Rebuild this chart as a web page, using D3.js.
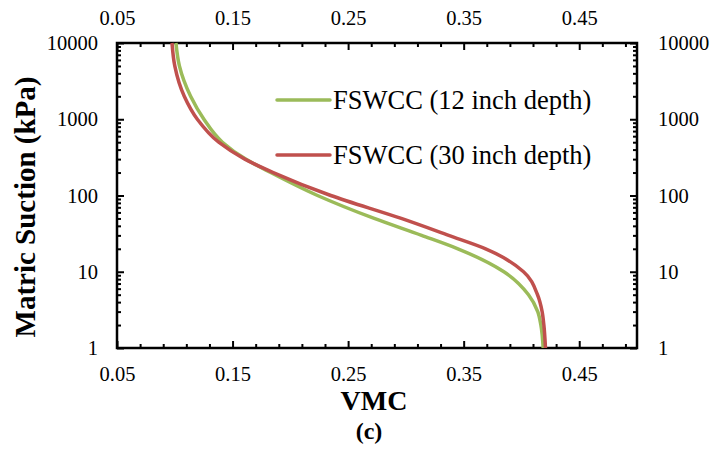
<!DOCTYPE html>
<html>
<head>
<meta charset="utf-8">
<script src="https://cdn.jsdelivr.net/npm/d3@7"></script>
<style>
  html, body { margin: 0; padding: 0; background: #fff; }
  svg { display: block; }
</style>
</head>
<body>
<svg id="chart" width="712" height="451"></svg>
<script>
// Soil-water characteristic curves: suction (kPa) vs volumetric moisture content
const suction = [10000, 5000, 2000, 1000, 500, 300, 200, 100, 50, 30, 20, 10, 5, 3, 2, 1];
const vmc12 = [0.1010, 0.1040, 0.1137, 0.1252, 0.1412, 0.1613, 0.1830, 0.2235, 0.2726, 0.3136, 0.3450, 0.3848, 0.4061, 0.4141, 0.4168, 0.4188];
const vmc30 = [0.0976, 0.1000, 0.1082, 0.1195, 0.1380, 0.1606, 0.1852, 0.2350, 0.2960, 0.3370, 0.3690, 0.4018, 0.4139, 0.4179, 0.4194, 0.4208];

const seriesNames = ["FSWCC (12 inch depth)", "FSWCC (30 inch depth)"];
const seriesColors = ["#9BBB59", "#C0504D"];

const xMajorTicks = [0.05, 0.15, 0.25, 0.35, 0.45];
const xMinorTicks = [0.07, 0.09, 0.11, 0.13, 0.17, 0.19, 0.21, 0.23, 0.27, 0.29, 0.31, 0.33,
                     0.37, 0.39, 0.41, 0.43, 0.47, 0.49];
const yMajorTicks = [1, 10, 100, 1000, 10000];

const FONT = '"Liberation Serif"';
const svg = d3.select("#chart");
const plotL = 117, plotR = 637, plotT = 43, plotB = 348;

const x = d3.scaleLinear().domain([0.05, 0.50]).range([plotL, plotR]);
const y = d3.scaleLog().domain([1, 10000]).range([plotB, plotT]);

const yMinorTicks = [];
for (let d = 1; d < 10000; d *= 10) for (let k = 2; k <= 9; k++) yMinorTicks.push(d * k);

const fmtX = d3.format(".2f");
const fmtY = d3.format("d");

function styleAxis(g) {
  g.attr("font-family", null).attr("font-size", null);
  g.select(".domain").remove();
  g.selectAll(".tick line").attr("stroke", "#000").attr("stroke-width", 2);
  g.selectAll(".tick text")
    .attr("fill", "#000")
    .style("font-family", FONT)
    .style("font-size", "20.5px");
}

function addAxis(axis, tx, ty) {
  svg.append("g").attr("transform", `translate(${tx},${ty})`).call(axis).call(styleAxis);
}

// bottom & top axes
addAxis(d3.axisBottom(x).tickValues(xMajorTicks).tickFormat(fmtX).tickSizeInner(-7).tickSizeOuter(0).tickPadding(18), 0, plotB);
addAxis(d3.axisBottom(x).tickValues(xMinorTicks).tickFormat("").tickSizeInner(-4).tickSizeOuter(0), 0, plotB);
addAxis(d3.axisTop(x).tickValues(xMajorTicks).tickFormat(fmtX).tickSizeInner(-7).tickSizeOuter(0).tickPadding(18), 0, plotT);
addAxis(d3.axisTop(x).tickValues(xMinorTicks).tickFormat("").tickSizeInner(-4).tickSizeOuter(0), 0, plotT);
// left & right axes
addAxis(d3.axisLeft(y).tickValues(yMajorTicks).tickFormat(fmtY).tickSizeInner(-7).tickSizeOuter(0).tickPadding(19), plotL, 0);
addAxis(d3.axisLeft(y).tickValues(yMinorTicks).tickFormat("").tickSizeInner(-4).tickSizeOuter(0), plotL, 0);
addAxis(d3.axisRight(y).tickValues(yMajorTicks).tickFormat(fmtY).tickSizeInner(-7).tickSizeOuter(0).tickPadding(21), plotR, 0);
addAxis(d3.axisRight(y).tickValues(yMinorTicks).tickFormat("").tickSizeInner(-4).tickSizeOuter(0), plotR, 0);

// plot frame
svg.append("rect")
  .attr("x", plotL).attr("y", plotT)
  .attr("width", plotR - plotL).attr("height", plotB - plotT)
  .attr("fill", "none").attr("stroke", "#000").attr("stroke-width", 2.5);

// curves
const line = d3.line()
  .x(d => x(d[0]))
  .y(d => y(d[1]))
  .curve(d3.curveMonotoneY);

[vmc12, vmc30].forEach((vals, i) => {
  svg.append("path")
    .datum(vals.map((v, j) => [v, suction[j]]))
    .attr("fill", "none")
    .attr("stroke", seriesColors[i])
    .attr("stroke-width", 3.5)
    .attr("stroke-linejoin", "round")
    .attr("d", line);
});

// legend
const legendY = [100, 155];
seriesNames.forEach((name, i) => {
  svg.append("line")
    .attr("x1", 277).attr("x2", 330)
    .attr("y1", legendY[i]).attr("y2", legendY[i])
    .attr("stroke", seriesColors[i]).attr("stroke-width", 3.5)
    .attr("stroke-linecap", "round");
  svg.append("text")
    .attr("x", 333).attr("y", legendY[i] + 9)
    .style("font-family", FONT)
    .style("font-size", "26.5px")
    .text(name);
});

// axis titles
svg.append("text")
  .attr("x", 374).attr("y", 410)
  .attr("text-anchor", "middle")
  .style("font-family", FONT)
  .style("font-size", "28px").style("font-weight", "bold")
  .text("VMC");
svg.append("text")
  .attr("x", 369).attr("y", 439)
  .attr("text-anchor", "middle")
  .style("font-family", FONT)
  .style("font-size", "24px").style("font-weight", "bold")
  .text("(c)");
svg.append("text")
  .attr("transform", "translate(35,207) rotate(-90)")
  .attr("text-anchor", "middle")
  .style("font-family", FONT)
  .style("font-size", "29px").style("font-weight", "bold")
  .text("Matric Suction (kPa)");
</script>
</body>
</html>
